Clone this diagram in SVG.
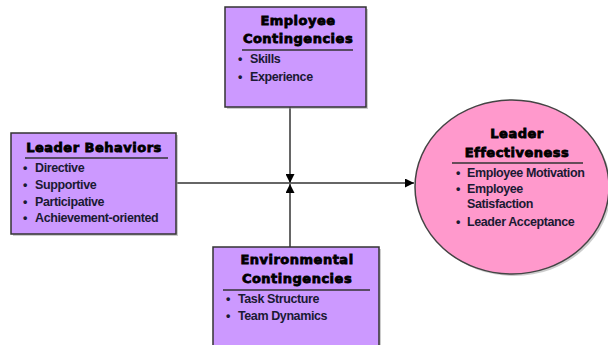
<svg xmlns="http://www.w3.org/2000/svg" width="608" height="345" viewBox="0 0 608 345">
<defs>
<style>
.box{fill:#cc99ff;stroke:#333;stroke-width:1.5}
.ell{fill:#ff99cc;stroke:#444;stroke-width:1.5}
.shadow{fill:#999;opacity:0.5}
.title{font-family:"DejaVu Sans","Liberation Sans",sans-serif;font-weight:bold;font-size:13px;letter-spacing:0.5px;fill:#000;text-anchor:middle;stroke:#000;stroke-width:0.8}
.item{font-family:"Liberation Sans",sans-serif;font-weight:bold;font-size:12.5px;letter-spacing:-0.4px;fill:#1a1a33}
.rule{stroke:#333;stroke-width:1.5}
.conn{stroke:#666;stroke-width:2;fill:none}
</style>
<marker id="arr" viewBox="0 0 10 10" refX="10" refY="5" markerWidth="4.5" markerHeight="4.5" orient="auto" markerUnits="strokeWidth">
<path d="M0,0 L10,5 L0,10 z" fill="#000"/>
</marker>
</defs>
<rect width="608" height="345" fill="#fff"/>
<g id="connectors">
<line class="conn" x1="177" y1="183" x2="414" y2="183" marker-end="url(#arr)"/>
<line class="conn" x1="290" y1="107" x2="290" y2="183" marker-end="url(#arr)"/>
<line class="conn" x1="290" y1="247" x2="290" y2="184" marker-end="url(#arr)"/>
</g>
<g id="leader-behaviors">
<rect class="shadow" x="13" y="135" width="165" height="101"/>
<rect class="box" x="11" y="133" width="165" height="101"/>
<text class="title" x="94" y="152">Leader Behaviors</text>
<line class="rule" x1="25" y1="158" x2="168" y2="158"/>
<text class="item" x="23" y="172">•</text><text class="item" x="35" y="172">Directive</text>
<text class="item" x="23" y="189">•</text><text class="item" x="35" y="189">Supportive</text>
<text class="item" x="23" y="206">•</text><text class="item" x="35" y="206">Participative</text>
<text class="item" x="23" y="222">•</text><text class="item" x="35" y="222">Achievement-oriented</text>
</g>
<g id="employee-contingencies">
<rect class="shadow" x="227" y="9" width="141" height="100"/>
<rect class="box" x="225" y="7" width="141" height="100"/>
<text class="title" x="298" y="25">Employee</text>
<text class="title" x="298" y="43">Contingencies</text>
<line class="rule" x1="242" y1="50" x2="353" y2="50"/>
<text class="item" x="238" y="63">•</text><text class="item" x="250" y="63">Skills</text>
<text class="item" x="238" y="81">•</text><text class="item" x="250" y="81">Experience</text>
</g>
<g id="environmental-contingencies">
<rect class="shadow" x="215" y="249" width="166" height="110"/>
<rect class="box" x="213" y="247" width="166" height="110"/>
<text class="title" x="297" y="264">Environmental</text>
<text class="title" x="297" y="283">Contingencies</text>
<line class="rule" x1="223" y1="290" x2="370" y2="290"/>
<text class="item" x="226" y="303">•</text><text class="item" x="238" y="303">Task Structure</text>
<text class="item" x="226" y="320">•</text><text class="item" x="238" y="320">Team Dynamics</text>
</g>
<g id="leader-effectiveness">
<ellipse class="shadow" cx="514" cy="189" rx="97" ry="87"/>
<ellipse class="ell" cx="512" cy="187" rx="97" ry="87"/>
<text class="title" x="517" y="138">Leader</text>
<text class="title" x="517" y="157">Effectiveness</text>
<line class="rule" x1="452" y1="163" x2="583" y2="163"/>
<text class="item" x="456" y="177">•</text><text class="item" x="467" y="177">Employee Motivation</text>
<text class="item" x="456" y="193">•</text><text class="item" x="467" y="193">Employee</text>
<text class="item" x="467" y="208">Satisfaction</text>
<text class="item" x="456" y="226">•</text><text class="item" x="467" y="226">Leader Acceptance</text>
</g>
</svg>
